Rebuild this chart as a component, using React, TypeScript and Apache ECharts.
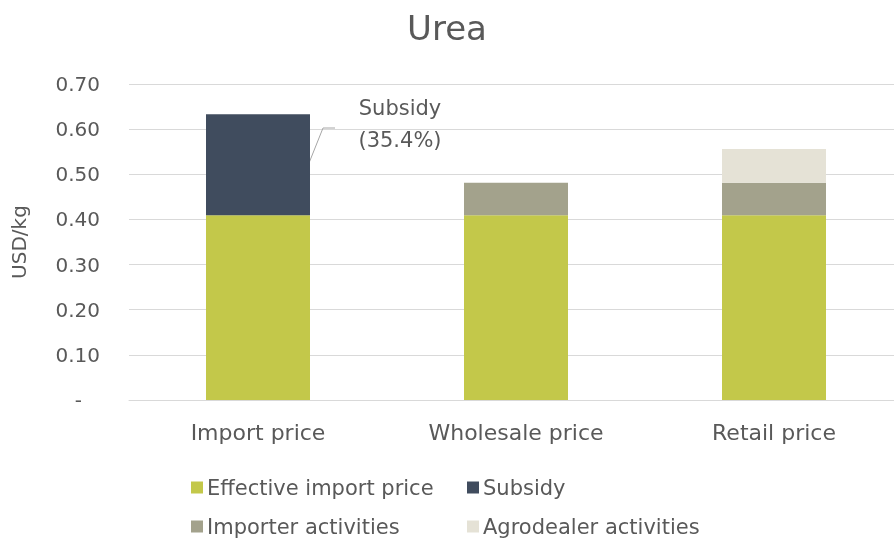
import React, { useEffect, useRef } from "react";
import * as echarts from "echarts";

const categories = ["Import price", "Wholesale price", "Retail price"];
const effectiveImport = [0.409, 0.409, 0.409];
const subsidy = [0.224, 0, 0];
const importer = [0, 0.072, 0.072];
const agrodealer = [0, 0, 0.075];
const yTicks = [0, 0.1, 0.2, 0.3, 0.4, 0.5, 0.6, 0.7];
const seriesNames = ["Effective import price", "Subsidy", "Importer activities", "Agrodealer activities"];

const FONT = "'DejaVu Sans', 'Noto Sans', sans-serif";
const TXT = "#595959";

export default function App() {
  const ref = useRef<HTMLDivElement>(null);
  useEffect(() => {
    const chart = echarts.init(ref.current!, null, { renderer: "svg" });
    const mk = (name: string, data: number[], color: string) => ({
      name,
      type: "bar",
      stack: "total",
      data: data.map((v) => (v === 0 ? null : v)),
      barWidth: 104,
      itemStyle: { color },
      emphasis: { disabled: true },
    });
    const legendPos = [
      [186, 472],
      [462, 472],
      [186, 511],
      [462, 511],
    ];
    chart.setOption({
      animation: false,
      textStyle: { fontFamily: FONT },
      title: {
        text: "Urea",
        left: "center",
        top: 6,
        textStyle: { fontFamily: FONT, fontSize: 34, fontWeight: "normal", color: TXT },
      },
      grid: { left: 129, width: 774, top: 84, bottom: 138, outerBoundsMode: "none" },
      legend: seriesNames.map((n, i) => ({
        left: legendPos[i][0],
        top: legendPos[i][1],
        itemWidth: 12,
        itemHeight: 12,
        itemGap: 4,
        icon: "rect",
        data: [n],
        textStyle: { fontFamily: FONT, fontSize: 21, color: TXT, padding: [0, 0, 0, -1] },
      })),
      xAxis: {
        type: "category",
        data: categories,
        axisTick: { show: false },
        axisLine: { lineStyle: { color: "#D9D9D9" } },
        axisLabel: { color: TXT, fontSize: 22, margin: 21, fontFamily: FONT },
      },
      yAxis: {
        type: "value",
        min: 0,
        max: 0.7,
        interval: 0.1,
        name: "USD/kg",
        nameLocation: "middle",
        nameGap: 100,
        nameTextStyle: { color: TXT, fontSize: 20, fontFamily: FONT },
        axisLine: { show: false },
        axisTick: { show: false },
        splitLine: { lineStyle: { color: "#D9D9D9", width: 1 } },
        axisLabel: {
          color: TXT,
          fontSize: 20,
          margin: 29,
          fontFamily: FONT,
          formatter: (v: number) =>
            Math.abs(v) < 1e-9 ? "{d|-}" : yTicks.find((t) => Math.abs(t - v) < 1e-9)!.toFixed(2),
          rich: { d: { color: TXT, fontSize: 20, padding: [0, 18, 0, 0], fontFamily: FONT } },
        },
      },
      series: [
        mk(seriesNames[0], effectiveImport, "#C3C84A"),
        mk(seriesNames[1], subsidy, "#404C5E"),
        mk(seriesNames[2], importer, "#A3A28C"),
        mk(seriesNames[3], agrodealer, "#E5E2D6"),
      ],
    });
    const p1 = chart.convertToPixel({ xAxisIndex: 0, yAxisIndex: 0 }, [0, 0.525]) as number[];
    const x0 = p1[0] + 51;
    const y0 = p1[1];
    chart.setOption({
      graphic: [
        {
          type: "polyline",
          shape: { points: [[x0, y0], [x0 + 14, y0 - 35], [x0 + 26, y0 - 35]] },
          style: { stroke: "#A6A6A6", lineWidth: 1, fill: null },
        },
        {
          type: "text",
          x: x0 + 91,
          y: y0 - 39,
          style: {
            text: "Subsidy\n(35.4%)",
            fontSize: 21,
            lineHeight: 32,
            fontFamily: FONT,
            fill: TXT,
            align: "center",
            verticalAlign: "middle",
          },
        },
      ],
    });
    return () => chart.dispose();
  }, []);
  return (
    <div
      ref={ref}
      style={{ position: "fixed", left: 0, top: 0, width: 894, height: 538 }}
    />
  );
}
